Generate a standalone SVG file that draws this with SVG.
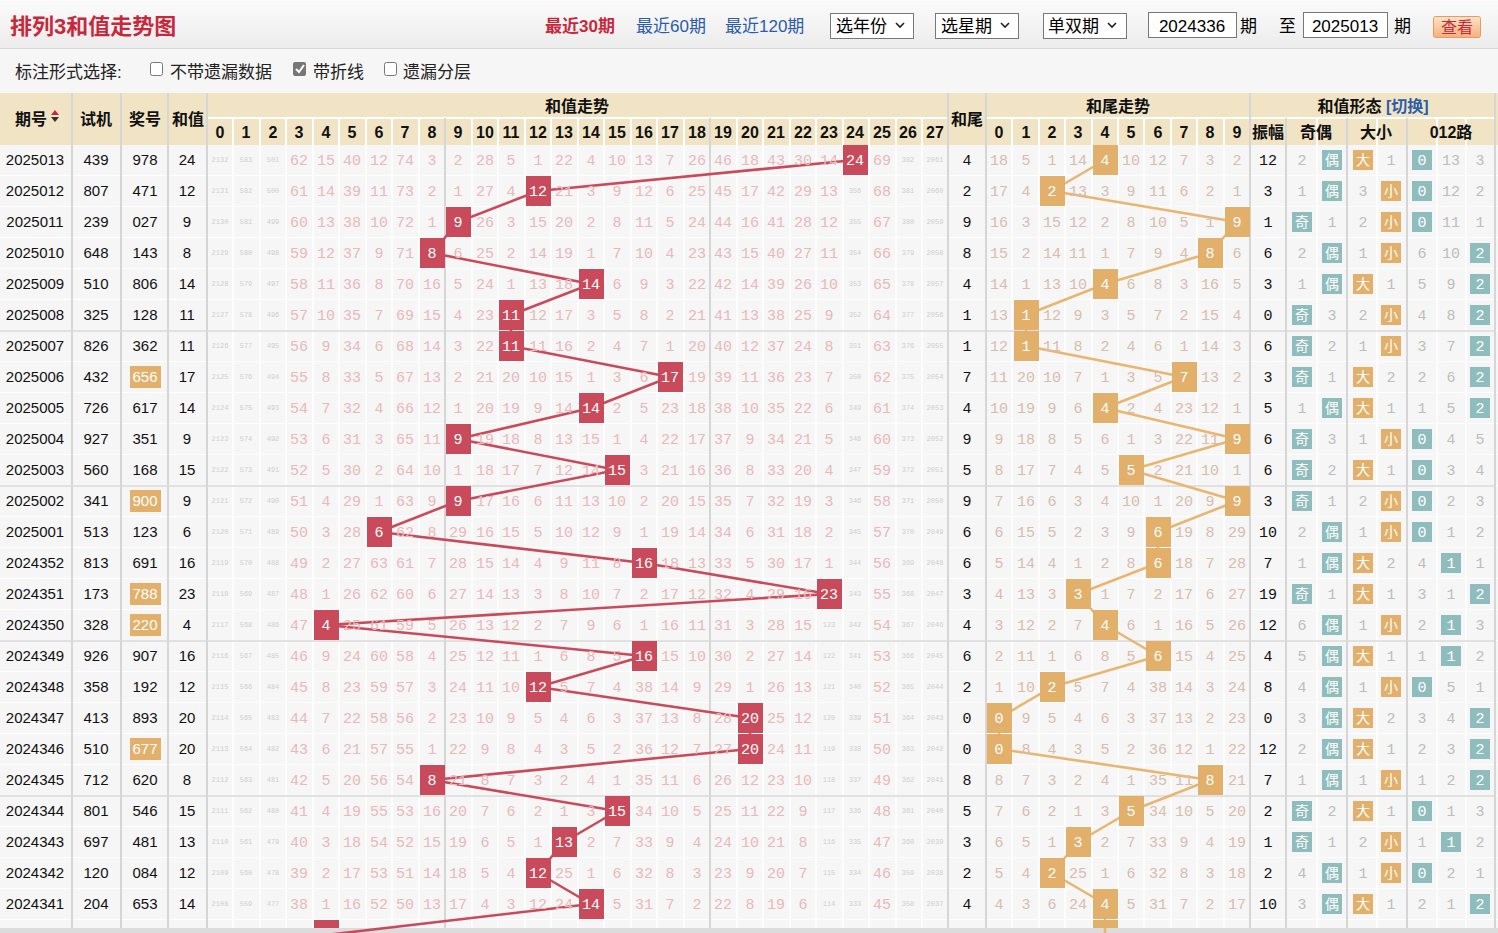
<svg xmlns="http://www.w3.org/2000/svg" width="1498" height="933" viewBox="0 0 1498 933">
<defs>
<linearGradient id="top" x1="0" y1="0" x2="0" y2="1"><stop offset="0" stop-color="#fbfbfb"/><stop offset="1" stop-color="#ececec"/></linearGradient>
<linearGradient id="btn" x1="0" y1="0" x2="0" y2="1"><stop offset="0" stop-color="#fde3c8"/><stop offset="1" stop-color="#f6b07a"/></linearGradient>
<pattern id="rows" x="0" y="145" width="10" height="31" patternUnits="userSpaceOnUse"><rect width="10" height="30" fill="#f6f6f6"/><rect y="30" width="10" height="1" fill="#fff"/></pattern>
</defs>
<style>
.ui{font-family:"Liberation Sans","Noto Sans CJK SC",sans-serif}
.h text{font-family:"Liberation Sans","Noto Sans CJK SC",sans-serif;font-weight:bold;font-size:16px;fill:#111;text-anchor:middle}
.r text{font-family:"Liberation Mono","Noto Sans CJK SC",monospace;font-size:15px;text-anchor:middle;fill:#e9b8ba}
.r .s{font-size:7px;fill:#cfcfcf}
.r .w{fill:#fff}
.r .a{fill:#d8bcae}
.r .f{fill:#bdbdbd}
.r .k{fill:#111;font-family:"Liberation Sans",sans-serif}
.r .kk{fill:#111}
.r .p{fill:#fff;font-family:"Liberation Sans",sans-serif}
.r .bw{fill:#fff;font-family:"Noto Sans CJK SC",sans-serif;font-size:14px}
.rb{fill:#c94b5b}
.ob{fill:#e2b06a}
.tb{fill:#8fbcbd}
.vl{stroke:#d6d6d6;stroke-width:2}
.hl{stroke:#d9d9d9;stroke-width:1.5}
</style>
<rect width="1498" height="933" fill="#f6f6f6"/>
<rect width="1498" height="48" fill="url(#top)"/>
<line x1="0" y1="48.5" x2="1498" y2="48.5" stroke="#d8d8d8"/>
<g id="toolbar" class="ui">
<text x="10" y="34" font-size="22" font-weight="bold" fill="#c8283c">排列3和值走势图</text>
<text x="545" y="32" font-size="17" font-weight="bold" fill="#c8283c">最近30期</text>
<text x="636" y="32" font-size="17" fill="#2a5caa">最近60期</text>
<text x="725" y="32" font-size="17" fill="#2a5caa">最近120期</text>
<rect x="830.5" y="13.5" width="83" height="25" fill="#fff" stroke="#777"/><text x="836" y="32" font-size="17">选年份</text><path d="M896 23l4 4 4-4" fill="none" stroke="#222" stroke-width="1.6"/>
<rect x="935.5" y="13.5" width="83" height="25" fill="#fff" stroke="#777"/><text x="941" y="32" font-size="17">选星期</text><path d="M1001 23l4 4 4-4" fill="none" stroke="#222" stroke-width="1.6"/>
<rect x="1043.5" y="13.5" width="83" height="25" fill="#fff" stroke="#777"/><text x="1048" y="32" font-size="17">单双期</text><path d="M1108 23l4 4 4-4" fill="none" stroke="#222" stroke-width="1.6"/>
<rect x="1148.5" y="12.5" width="88" height="25" fill="#fff" stroke="#777"/><text x="1192" y="32" font-size="17" text-anchor="middle">2024336</text>
<text x="1240" y="32" font-size="17">期</text><text x="1279" y="32" font-size="17">至</text>
<rect x="1303.5" y="12.5" width="84" height="25" fill="#fff" stroke="#777"/><text x="1345" y="32" font-size="17" text-anchor="middle">2025013</text>
<text x="1394" y="32" font-size="17">期</text>
<rect x="1433.5" y="16.5" width="47" height="21" rx="2" fill="url(#btn)" stroke="#e89a66"/><text x="1457" y="33" font-size="16" text-anchor="middle" fill="#c8283c">查看</text>
<text x="15" y="78" font-size="17" fill="#222">标注形式选择:</text>
<rect x="150.5" y="62.5" width="12" height="13" rx="2" fill="#fff" stroke="#777"/><text x="170" y="78" font-size="17" fill="#222">不带遗漏数据</text>
<rect x="293" y="62" width="13" height="14" rx="2" fill="#777"/><path d="M296 69l3 3 5-7" fill="none" stroke="#fff" stroke-width="2"/><text x="313" y="78" font-size="17" fill="#222">带折线</text>
<rect x="384.5" y="62.5" width="12" height="13" rx="2" fill="#fff" stroke="#777"/><text x="403" y="78" font-size="17" fill="#222">遗漏分层</text>
</g>
<g id="header" class="h">
<rect x="0" y="93" width="1498" height="52" fill="#f0e4c5"/>
<path d="M207 118H948M986 118H1250M1251 118H1495" stroke="#fff" stroke-width="2"/>
<path d="M72 93V145M121 93V145M168 93V145M207 118V145M233 118V145M260 118V145M286 118V145M313 118V145M339 118V145M366 118V145M392 118V145M419 118V145M472 118V145M498 118V145M525 118V145M551 118V145M578 118V145M604 118V145M631 118V145M657 118V145M684 118V145M737 118V145M763 118V145M790 118V145M816 118V145M843 118V145M869 118V145M896 118V145M922 118V145M1012 118V145M1039 118V145M1065 118V145M1092 118V145M1118 118V145M1144 118V145M1171 118V145M1197 118V145M1224 118V145M1317 118V145M1377 118V145M1437 118V145M1466 118V145" stroke="#fff" stroke-width="2"/>
<text x="31" y="125" font-size="17">期号</text><path d="M51 115l4-5 4 5z" fill="#c8283c"/><path d="M51 117l4 5 4-5z" fill="#333"/>
<text x="96" y="125" font-size="17">试机</text><text x="145" y="125" font-size="17">奖号</text><text x="188" y="125" font-size="17">和值</text>
<text x="577" y="112">和值走势</text>
<text x="220" y="138">0</text><text x="246" y="138">1</text><text x="273" y="138">2</text><text x="299" y="138">3</text><text x="326" y="138">4</text><text x="352" y="138">5</text><text x="379" y="138">6</text><text x="405" y="138">7</text><text x="432" y="138">8</text><text x="458" y="138">9</text><text x="485" y="138">10</text><text x="511" y="138">11</text><text x="538" y="138">12</text><text x="564" y="138">13</text><text x="591" y="138">14</text><text x="617" y="138">15</text><text x="644" y="138">16</text><text x="670" y="138">17</text><text x="697" y="138">18</text><text x="723" y="138">19</text><text x="750" y="138">20</text><text x="776" y="138">21</text><text x="803" y="138">22</text><text x="829" y="138">23</text><text x="855" y="138">24</text><text x="882" y="138">25</text><text x="908" y="138">26</text><text x="935" y="138">27</text>
<text x="967" y="125" font-size="17">和尾</text>
<text x="1118" y="112">和尾走势</text>
<text x="999" y="138">0</text><text x="1026" y="138">1</text><text x="1052" y="138">2</text><text x="1078" y="138">3</text><text x="1105" y="138">4</text><text x="1131" y="138">5</text><text x="1158" y="138">6</text><text x="1184" y="138">7</text><text x="1210" y="138">8</text><text x="1237" y="138">9</text>
<text x="1373" y="112">和值形态 <tspan fill="#2a5caa">[切换]</tspan></text>
<text x="1268" y="138">振幅</text><text x="1316" y="138">奇偶</text><text x="1376" y="138">大小</text><text x="1451" y="138">012路</text>
</g>
<g id="grid">
<rect x="0" y="145" width="1498" height="783" fill="url(#rows)"/>
<path d="M233 145V928M260 145V928M286 145V928M313 145V928M339 145V928M366 145V928M392 145V928M419 145V928M472 145V928M498 145V928M525 145V928M551 145V928M578 145V928M604 145V928M631 145V928M657 145V928M684 145V928M737 145V928M763 145V928M790 145V928M816 145V928M843 145V928M869 145V928M896 145V928M922 145V928M1012 145V928M1039 145V928M1065 145V928M1092 145V928M1118 145V928M1144 145V928M1171 145V928M1197 145V928M1224 145V928M1317 145V928M1377 145V928M1437 145V928M1466 145V928" stroke="#fff" stroke-width="1.5"/>
<path class="vl" d="M72 93V928M121 93V928M168 93V928M207 93V928M445 118V928M710 118V928M948 93V928M986 93V928M1250 93V928M1286 118V928M1347 118V928M1407 118V928M1495 93V928"/>
<path class="hl" d="M0 331H1495M0 486H1495M0 641H1495M0 796H1495"/>
<rect x="0" y="928" width="1498" height="5" fill="#dcdcdc"/>
</g>
<g id="connectors" fill="none" stroke-width="2.6" stroke-linejoin="round">
<polyline stroke="#c94b5b" points="855,160 538,191 458,222 432,253 591,284 511,315 511,346 670,377 591,408 458,439 617,470 458,501 379,532 644,563 829,594 326,625 644,656 538,687 750,718 750,749 432,780 617,811 564,842 538,873 591,904 326,935"/>
<polyline stroke="#e8b670" points="1105,160 1052,191 1237,222 1210,253 1105,284 1026,315 1026,346 1184,377 1105,408 1237,439 1131,470 1237,501 1158,532 1158,563 1078,594 1105,625 1158,656 1052,687 999,718 999,749 1210,780 1131,811 1078,842 1052,873 1105,904 1105,935"/>
</g>
<g id="r0" class="r" transform="translate(0,160)"><rect class="rb" x="843" y="-15" width="25" height="30"/><rect class="ob" x="1093" y="-15" width="25" height="30"/><rect class="tb" x="1322" y="-10" width="20" height="20"/><rect class="ob" x="1353" y="-10" width="20" height="20"/><rect class="tb" x="1412" y="-10" width="20" height="20"/>
<text class="k" x="35" y="5">2025013</text><text class="k" x="96" y="5">439</text><text class="k" x="145" y="5">978</text><text class="k" x="187" y="5">24</text>
<text class="s" x="220" y="2">2132</text><text class="s" x="246" y="2">583</text><text class="s" x="273" y="2">501</text><text x="299" y="5">62</text><text x="326" y="5">15</text><text x="352" y="5">40</text><text x="379" y="5">12</text><text x="405" y="5">74</text><text x="432" y="5">3</text><text x="458" y="5">2</text><text x="485" y="5">28</text><text x="511" y="5">5</text><text x="538" y="5">1</text><text x="564" y="5">22</text><text x="591" y="5">4</text><text x="617" y="5">10</text><text x="644" y="5">13</text><text x="670" y="5">7</text><text x="697" y="5">26</text><text x="723" y="5">46</text><text x="750" y="5">18</text><text x="776" y="5">43</text><text x="803" y="5">30</text><text x="829" y="5">14</text><text class="w" x="855" y="5">24</text><text x="882" y="5">69</text><text class="s" x="908" y="2">382</text><text class="s" x="935" y="2">2061</text>
<text class="kk" x="967" y="5">4</text><text class="a" x="999" y="5">18</text><text class="a" x="1026" y="5">5</text><text class="a" x="1052" y="5">1</text><text class="a" x="1078" y="5">14</text><text class="w" x="1105" y="5">4</text><text class="a" x="1131" y="5">10</text><text class="a" x="1158" y="5">12</text><text class="a" x="1184" y="5">7</text><text class="a" x="1210" y="5">3</text><text class="a" x="1237" y="5">2</text>
<text class="kk" x="1268" y="5">12</text><text class="f" x="1302" y="5">2</text><text class="bw" x="1332" y="5">偶</text><text class="bw" x="1363" y="5">大</text><text class="f" x="1391" y="5">1</text><text class="w" x="1422" y="5">0</text><text class="f" x="1451" y="5">13</text><text class="f" x="1480" y="5">3</text></g>
<g id="r1" class="r" transform="translate(0,191)"><rect class="rb" x="526" y="-15" width="25" height="30"/><rect class="ob" x="1040" y="-15" width="25" height="30"/><rect class="tb" x="1322" y="-10" width="20" height="20"/><rect class="ob" x="1381" y="-10" width="20" height="20"/><rect class="tb" x="1412" y="-10" width="20" height="20"/>
<text class="k" x="35" y="5">2025012</text><text class="k" x="96" y="5">807</text><text class="k" x="145" y="5">471</text><text class="k" x="187" y="5">12</text>
<text class="s" x="220" y="2">2131</text><text class="s" x="246" y="2">582</text><text class="s" x="273" y="2">500</text><text x="299" y="5">61</text><text x="326" y="5">14</text><text x="352" y="5">39</text><text x="379" y="5">11</text><text x="405" y="5">73</text><text x="432" y="5">2</text><text x="458" y="5">1</text><text x="485" y="5">27</text><text x="511" y="5">4</text><text class="w" x="538" y="5">12</text><text x="564" y="5">21</text><text x="591" y="5">3</text><text x="617" y="5">9</text><text x="644" y="5">12</text><text x="670" y="5">6</text><text x="697" y="5">25</text><text x="723" y="5">45</text><text x="750" y="5">17</text><text x="776" y="5">42</text><text x="803" y="5">29</text><text x="829" y="5">13</text><text class="s" x="855" y="2">356</text><text x="882" y="5">68</text><text class="s" x="908" y="2">381</text><text class="s" x="935" y="2">2060</text>
<text class="kk" x="967" y="5">2</text><text class="a" x="999" y="5">17</text><text class="a" x="1026" y="5">4</text><text class="w" x="1052" y="5">2</text><text class="a" x="1078" y="5">13</text><text class="a" x="1105" y="5">3</text><text class="a" x="1131" y="5">9</text><text class="a" x="1158" y="5">11</text><text class="a" x="1184" y="5">6</text><text class="a" x="1210" y="5">2</text><text class="a" x="1237" y="5">1</text>
<text class="kk" x="1268" y="5">3</text><text class="f" x="1302" y="5">1</text><text class="bw" x="1332" y="5">偶</text><text class="f" x="1363" y="5">3</text><text class="bw" x="1391" y="5">小</text><text class="w" x="1422" y="5">0</text><text class="f" x="1451" y="5">12</text><text class="f" x="1480" y="5">2</text></g>
<g id="r2" class="r" transform="translate(0,222)"><rect class="rb" x="446" y="-15" width="25" height="30"/><rect class="ob" x="1225" y="-15" width="25" height="30"/><rect class="tb" x="1292" y="-10" width="20" height="20"/><rect class="ob" x="1381" y="-10" width="20" height="20"/><rect class="tb" x="1412" y="-10" width="20" height="20"/>
<text class="k" x="35" y="5">2025011</text><text class="k" x="96" y="5">239</text><text class="k" x="145" y="5">027</text><text class="k" x="187" y="5">9</text>
<text class="s" x="220" y="2">2130</text><text class="s" x="246" y="2">581</text><text class="s" x="273" y="2">499</text><text x="299" y="5">60</text><text x="326" y="5">13</text><text x="352" y="5">38</text><text x="379" y="5">10</text><text x="405" y="5">72</text><text x="432" y="5">1</text><text class="w" x="458" y="5">9</text><text x="485" y="5">26</text><text x="511" y="5">3</text><text x="538" y="5">15</text><text x="564" y="5">20</text><text x="591" y="5">2</text><text x="617" y="5">8</text><text x="644" y="5">11</text><text x="670" y="5">5</text><text x="697" y="5">24</text><text x="723" y="5">44</text><text x="750" y="5">16</text><text x="776" y="5">41</text><text x="803" y="5">28</text><text x="829" y="5">12</text><text class="s" x="855" y="2">355</text><text x="882" y="5">67</text><text class="s" x="908" y="2">380</text><text class="s" x="935" y="2">2059</text>
<text class="kk" x="967" y="5">9</text><text class="a" x="999" y="5">16</text><text class="a" x="1026" y="5">3</text><text class="a" x="1052" y="5">15</text><text class="a" x="1078" y="5">12</text><text class="a" x="1105" y="5">2</text><text class="a" x="1131" y="5">8</text><text class="a" x="1158" y="5">10</text><text class="a" x="1184" y="5">5</text><text class="a" x="1210" y="5">1</text><text class="w" x="1237" y="5">9</text>
<text class="kk" x="1268" y="5">1</text><text class="bw" x="1302" y="5">奇</text><text class="f" x="1332" y="5">1</text><text class="f" x="1363" y="5">2</text><text class="bw" x="1391" y="5">小</text><text class="w" x="1422" y="5">0</text><text class="f" x="1451" y="5">11</text><text class="f" x="1480" y="5">1</text></g>
<g id="r3" class="r" transform="translate(0,253)"><rect class="rb" x="420" y="-15" width="25" height="30"/><rect class="ob" x="1198" y="-15" width="25" height="30"/><rect class="tb" x="1322" y="-10" width="20" height="20"/><rect class="ob" x="1381" y="-10" width="20" height="20"/><rect class="tb" x="1470" y="-10" width="20" height="20"/>
<text class="k" x="35" y="5">2025010</text><text class="k" x="96" y="5">648</text><text class="k" x="145" y="5">143</text><text class="k" x="187" y="5">8</text>
<text class="s" x="220" y="2">2129</text><text class="s" x="246" y="2">580</text><text class="s" x="273" y="2">498</text><text x="299" y="5">59</text><text x="326" y="5">12</text><text x="352" y="5">37</text><text x="379" y="5">9</text><text x="405" y="5">71</text><text class="w" x="432" y="5">8</text><text x="458" y="5">6</text><text x="485" y="5">25</text><text x="511" y="5">2</text><text x="538" y="5">14</text><text x="564" y="5">19</text><text x="591" y="5">1</text><text x="617" y="5">7</text><text x="644" y="5">10</text><text x="670" y="5">4</text><text x="697" y="5">23</text><text x="723" y="5">43</text><text x="750" y="5">15</text><text x="776" y="5">40</text><text x="803" y="5">27</text><text x="829" y="5">11</text><text class="s" x="855" y="2">354</text><text x="882" y="5">66</text><text class="s" x="908" y="2">379</text><text class="s" x="935" y="2">2058</text>
<text class="kk" x="967" y="5">8</text><text class="a" x="999" y="5">15</text><text class="a" x="1026" y="5">2</text><text class="a" x="1052" y="5">14</text><text class="a" x="1078" y="5">11</text><text class="a" x="1105" y="5">1</text><text class="a" x="1131" y="5">7</text><text class="a" x="1158" y="5">9</text><text class="a" x="1184" y="5">4</text><text class="w" x="1210" y="5">8</text><text class="a" x="1237" y="5">6</text>
<text class="kk" x="1268" y="5">6</text><text class="f" x="1302" y="5">2</text><text class="bw" x="1332" y="5">偶</text><text class="f" x="1363" y="5">1</text><text class="bw" x="1391" y="5">小</text><text class="f" x="1422" y="5">6</text><text class="f" x="1451" y="5">10</text><text class="w" x="1480" y="5">2</text></g>
<g id="r4" class="r" transform="translate(0,284)"><rect class="rb" x="579" y="-15" width="25" height="30"/><rect class="ob" x="1093" y="-15" width="25" height="30"/><rect class="tb" x="1322" y="-10" width="20" height="20"/><rect class="ob" x="1353" y="-10" width="20" height="20"/><rect class="tb" x="1470" y="-10" width="20" height="20"/>
<text class="k" x="35" y="5">2025009</text><text class="k" x="96" y="5">510</text><text class="k" x="145" y="5">806</text><text class="k" x="187" y="5">14</text>
<text class="s" x="220" y="2">2128</text><text class="s" x="246" y="2">579</text><text class="s" x="273" y="2">497</text><text x="299" y="5">58</text><text x="326" y="5">11</text><text x="352" y="5">36</text><text x="379" y="5">8</text><text x="405" y="5">70</text><text x="432" y="5">16</text><text x="458" y="5">5</text><text x="485" y="5">24</text><text x="511" y="5">1</text><text x="538" y="5">13</text><text x="564" y="5">18</text><text class="w" x="591" y="5">14</text><text x="617" y="5">6</text><text x="644" y="5">9</text><text x="670" y="5">3</text><text x="697" y="5">22</text><text x="723" y="5">42</text><text x="750" y="5">14</text><text x="776" y="5">39</text><text x="803" y="5">26</text><text x="829" y="5">10</text><text class="s" x="855" y="2">353</text><text x="882" y="5">65</text><text class="s" x="908" y="2">378</text><text class="s" x="935" y="2">2057</text>
<text class="kk" x="967" y="5">4</text><text class="a" x="999" y="5">14</text><text class="a" x="1026" y="5">1</text><text class="a" x="1052" y="5">13</text><text class="a" x="1078" y="5">10</text><text class="w" x="1105" y="5">4</text><text class="a" x="1131" y="5">6</text><text class="a" x="1158" y="5">8</text><text class="a" x="1184" y="5">3</text><text class="a" x="1210" y="5">16</text><text class="a" x="1237" y="5">5</text>
<text class="kk" x="1268" y="5">3</text><text class="f" x="1302" y="5">1</text><text class="bw" x="1332" y="5">偶</text><text class="bw" x="1363" y="5">大</text><text class="f" x="1391" y="5">1</text><text class="f" x="1422" y="5">5</text><text class="f" x="1451" y="5">9</text><text class="w" x="1480" y="5">2</text></g>
<g id="r5" class="r" transform="translate(0,315)"><rect class="rb" x="499" y="-15" width="25" height="30"/><rect class="ob" x="1014" y="-15" width="25" height="30"/><rect class="tb" x="1292" y="-10" width="20" height="20"/><rect class="ob" x="1381" y="-10" width="20" height="20"/><rect class="tb" x="1470" y="-10" width="20" height="20"/>
<text class="k" x="35" y="5">2025008</text><text class="k" x="96" y="5">325</text><text class="k" x="145" y="5">128</text><text class="k" x="187" y="5">11</text>
<text class="s" x="220" y="2">2127</text><text class="s" x="246" y="2">578</text><text class="s" x="273" y="2">496</text><text x="299" y="5">57</text><text x="326" y="5">10</text><text x="352" y="5">35</text><text x="379" y="5">7</text><text x="405" y="5">69</text><text x="432" y="5">15</text><text x="458" y="5">4</text><text x="485" y="5">23</text><text class="w" x="511" y="5">11</text><text x="538" y="5">12</text><text x="564" y="5">17</text><text x="591" y="5">3</text><text x="617" y="5">5</text><text x="644" y="5">8</text><text x="670" y="5">2</text><text x="697" y="5">21</text><text x="723" y="5">41</text><text x="750" y="5">13</text><text x="776" y="5">38</text><text x="803" y="5">25</text><text x="829" y="5">9</text><text class="s" x="855" y="2">352</text><text x="882" y="5">64</text><text class="s" x="908" y="2">377</text><text class="s" x="935" y="2">2056</text>
<text class="kk" x="967" y="5">1</text><text class="a" x="999" y="5">13</text><text class="w" x="1026" y="5">1</text><text class="a" x="1052" y="5">12</text><text class="a" x="1078" y="5">9</text><text class="a" x="1105" y="5">3</text><text class="a" x="1131" y="5">5</text><text class="a" x="1158" y="5">7</text><text class="a" x="1184" y="5">2</text><text class="a" x="1210" y="5">15</text><text class="a" x="1237" y="5">4</text>
<text class="kk" x="1268" y="5">0</text><text class="bw" x="1302" y="5">奇</text><text class="f" x="1332" y="5">3</text><text class="f" x="1363" y="5">2</text><text class="bw" x="1391" y="5">小</text><text class="f" x="1422" y="5">4</text><text class="f" x="1451" y="5">8</text><text class="w" x="1480" y="5">2</text></g>
<g id="r6" class="r" transform="translate(0,346)"><rect class="rb" x="499" y="-15" width="25" height="30"/><rect class="ob" x="1014" y="-15" width="25" height="30"/><rect class="tb" x="1292" y="-10" width="20" height="20"/><rect class="ob" x="1381" y="-10" width="20" height="20"/><rect class="tb" x="1470" y="-10" width="20" height="20"/>
<text class="k" x="35" y="5">2025007</text><text class="k" x="96" y="5">826</text><text class="k" x="145" y="5">362</text><text class="k" x="187" y="5">11</text>
<text class="s" x="220" y="2">2126</text><text class="s" x="246" y="2">577</text><text class="s" x="273" y="2">495</text><text x="299" y="5">56</text><text x="326" y="5">9</text><text x="352" y="5">34</text><text x="379" y="5">6</text><text x="405" y="5">68</text><text x="432" y="5">14</text><text x="458" y="5">3</text><text x="485" y="5">22</text><text class="w" x="511" y="5">11</text><text x="538" y="5">11</text><text x="564" y="5">16</text><text x="591" y="5">2</text><text x="617" y="5">4</text><text x="644" y="5">7</text><text x="670" y="5">1</text><text x="697" y="5">20</text><text x="723" y="5">40</text><text x="750" y="5">12</text><text x="776" y="5">37</text><text x="803" y="5">24</text><text x="829" y="5">8</text><text class="s" x="855" y="2">351</text><text x="882" y="5">63</text><text class="s" x="908" y="2">376</text><text class="s" x="935" y="2">2055</text>
<text class="kk" x="967" y="5">1</text><text class="a" x="999" y="5">12</text><text class="w" x="1026" y="5">1</text><text class="a" x="1052" y="5">11</text><text class="a" x="1078" y="5">8</text><text class="a" x="1105" y="5">2</text><text class="a" x="1131" y="5">4</text><text class="a" x="1158" y="5">6</text><text class="a" x="1184" y="5">1</text><text class="a" x="1210" y="5">14</text><text class="a" x="1237" y="5">3</text>
<text class="kk" x="1268" y="5">6</text><text class="bw" x="1302" y="5">奇</text><text class="f" x="1332" y="5">2</text><text class="f" x="1363" y="5">1</text><text class="bw" x="1391" y="5">小</text><text class="f" x="1422" y="5">3</text><text class="f" x="1451" y="5">7</text><text class="w" x="1480" y="5">2</text></g>
<g id="r7" class="r" transform="translate(0,377)"><rect class="ob" x="130" y="-11" width="31" height="22"/><rect class="rb" x="658" y="-15" width="25" height="30"/><rect class="ob" x="1172" y="-15" width="25" height="30"/><rect class="tb" x="1292" y="-10" width="20" height="20"/><rect class="ob" x="1353" y="-10" width="20" height="20"/><rect class="tb" x="1470" y="-10" width="20" height="20"/>
<text class="k" x="35" y="5">2025006</text><text class="k" x="96" y="5">432</text><text class="p" x="145" y="5">656</text><text class="k" x="187" y="5">17</text>
<text class="s" x="220" y="2">2125</text><text class="s" x="246" y="2">576</text><text class="s" x="273" y="2">494</text><text x="299" y="5">55</text><text x="326" y="5">8</text><text x="352" y="5">33</text><text x="379" y="5">5</text><text x="405" y="5">67</text><text x="432" y="5">13</text><text x="458" y="5">2</text><text x="485" y="5">21</text><text x="511" y="5">20</text><text x="538" y="5">10</text><text x="564" y="5">15</text><text x="591" y="5">1</text><text x="617" y="5">3</text><text x="644" y="5">6</text><text class="w" x="670" y="5">17</text><text x="697" y="5">19</text><text x="723" y="5">39</text><text x="750" y="5">11</text><text x="776" y="5">36</text><text x="803" y="5">23</text><text x="829" y="5">7</text><text class="s" x="855" y="2">350</text><text x="882" y="5">62</text><text class="s" x="908" y="2">375</text><text class="s" x="935" y="2">2054</text>
<text class="kk" x="967" y="5">7</text><text class="a" x="999" y="5">11</text><text class="a" x="1026" y="5">20</text><text class="a" x="1052" y="5">10</text><text class="a" x="1078" y="5">7</text><text class="a" x="1105" y="5">1</text><text class="a" x="1131" y="5">3</text><text class="a" x="1158" y="5">5</text><text class="w" x="1184" y="5">7</text><text class="a" x="1210" y="5">13</text><text class="a" x="1237" y="5">2</text>
<text class="kk" x="1268" y="5">3</text><text class="bw" x="1302" y="5">奇</text><text class="f" x="1332" y="5">1</text><text class="bw" x="1363" y="5">大</text><text class="f" x="1391" y="5">2</text><text class="f" x="1422" y="5">2</text><text class="f" x="1451" y="5">6</text><text class="w" x="1480" y="5">2</text></g>
<g id="r8" class="r" transform="translate(0,408)"><rect class="rb" x="579" y="-15" width="25" height="30"/><rect class="ob" x="1093" y="-15" width="25" height="30"/><rect class="tb" x="1322" y="-10" width="20" height="20"/><rect class="ob" x="1353" y="-10" width="20" height="20"/><rect class="tb" x="1470" y="-10" width="20" height="20"/>
<text class="k" x="35" y="5">2025005</text><text class="k" x="96" y="5">726</text><text class="k" x="145" y="5">617</text><text class="k" x="187" y="5">14</text>
<text class="s" x="220" y="2">2124</text><text class="s" x="246" y="2">575</text><text class="s" x="273" y="2">493</text><text x="299" y="5">54</text><text x="326" y="5">7</text><text x="352" y="5">32</text><text x="379" y="5">4</text><text x="405" y="5">66</text><text x="432" y="5">12</text><text x="458" y="5">1</text><text x="485" y="5">20</text><text x="511" y="5">19</text><text x="538" y="5">9</text><text x="564" y="5">14</text><text class="w" x="591" y="5">14</text><text x="617" y="5">2</text><text x="644" y="5">5</text><text x="670" y="5">23</text><text x="697" y="5">18</text><text x="723" y="5">38</text><text x="750" y="5">10</text><text x="776" y="5">35</text><text x="803" y="5">22</text><text x="829" y="5">6</text><text class="s" x="855" y="2">349</text><text x="882" y="5">61</text><text class="s" x="908" y="2">374</text><text class="s" x="935" y="2">2053</text>
<text class="kk" x="967" y="5">4</text><text class="a" x="999" y="5">10</text><text class="a" x="1026" y="5">19</text><text class="a" x="1052" y="5">9</text><text class="a" x="1078" y="5">6</text><text class="w" x="1105" y="5">4</text><text class="a" x="1131" y="5">2</text><text class="a" x="1158" y="5">4</text><text class="a" x="1184" y="5">23</text><text class="a" x="1210" y="5">12</text><text class="a" x="1237" y="5">1</text>
<text class="kk" x="1268" y="5">5</text><text class="f" x="1302" y="5">1</text><text class="bw" x="1332" y="5">偶</text><text class="bw" x="1363" y="5">大</text><text class="f" x="1391" y="5">1</text><text class="f" x="1422" y="5">1</text><text class="f" x="1451" y="5">5</text><text class="w" x="1480" y="5">2</text></g>
<g id="r9" class="r" transform="translate(0,439)"><rect class="rb" x="446" y="-15" width="25" height="30"/><rect class="ob" x="1225" y="-15" width="25" height="30"/><rect class="tb" x="1292" y="-10" width="20" height="20"/><rect class="ob" x="1381" y="-10" width="20" height="20"/><rect class="tb" x="1412" y="-10" width="20" height="20"/>
<text class="k" x="35" y="5">2025004</text><text class="k" x="96" y="5">927</text><text class="k" x="145" y="5">351</text><text class="k" x="187" y="5">9</text>
<text class="s" x="220" y="2">2123</text><text class="s" x="246" y="2">574</text><text class="s" x="273" y="2">492</text><text x="299" y="5">53</text><text x="326" y="5">6</text><text x="352" y="5">31</text><text x="379" y="5">3</text><text x="405" y="5">65</text><text x="432" y="5">11</text><text class="w" x="458" y="5">9</text><text x="485" y="5">19</text><text x="511" y="5">18</text><text x="538" y="5">8</text><text x="564" y="5">13</text><text x="591" y="5">15</text><text x="617" y="5">1</text><text x="644" y="5">4</text><text x="670" y="5">22</text><text x="697" y="5">17</text><text x="723" y="5">37</text><text x="750" y="5">9</text><text x="776" y="5">34</text><text x="803" y="5">21</text><text x="829" y="5">5</text><text class="s" x="855" y="2">348</text><text x="882" y="5">60</text><text class="s" x="908" y="2">373</text><text class="s" x="935" y="2">2052</text>
<text class="kk" x="967" y="5">9</text><text class="a" x="999" y="5">9</text><text class="a" x="1026" y="5">18</text><text class="a" x="1052" y="5">8</text><text class="a" x="1078" y="5">5</text><text class="a" x="1105" y="5">6</text><text class="a" x="1131" y="5">1</text><text class="a" x="1158" y="5">3</text><text class="a" x="1184" y="5">22</text><text class="a" x="1210" y="5">11</text><text class="w" x="1237" y="5">9</text>
<text class="kk" x="1268" y="5">6</text><text class="bw" x="1302" y="5">奇</text><text class="f" x="1332" y="5">3</text><text class="f" x="1363" y="5">1</text><text class="bw" x="1391" y="5">小</text><text class="w" x="1422" y="5">0</text><text class="f" x="1451" y="5">4</text><text class="f" x="1480" y="5">5</text></g>
<g id="r10" class="r" transform="translate(0,470)"><rect class="rb" x="605" y="-15" width="25" height="30"/><rect class="ob" x="1119" y="-15" width="25" height="30"/><rect class="tb" x="1292" y="-10" width="20" height="20"/><rect class="ob" x="1353" y="-10" width="20" height="20"/><rect class="tb" x="1412" y="-10" width="20" height="20"/>
<text class="k" x="35" y="5">2025003</text><text class="k" x="96" y="5">560</text><text class="k" x="145" y="5">168</text><text class="k" x="187" y="5">15</text>
<text class="s" x="220" y="2">2122</text><text class="s" x="246" y="2">573</text><text class="s" x="273" y="2">491</text><text x="299" y="5">52</text><text x="326" y="5">5</text><text x="352" y="5">30</text><text x="379" y="5">2</text><text x="405" y="5">64</text><text x="432" y="5">10</text><text x="458" y="5">1</text><text x="485" y="5">18</text><text x="511" y="5">17</text><text x="538" y="5">7</text><text x="564" y="5">12</text><text x="591" y="5">14</text><text class="w" x="617" y="5">15</text><text x="644" y="5">3</text><text x="670" y="5">21</text><text x="697" y="5">16</text><text x="723" y="5">36</text><text x="750" y="5">8</text><text x="776" y="5">33</text><text x="803" y="5">20</text><text x="829" y="5">4</text><text class="s" x="855" y="2">347</text><text x="882" y="5">59</text><text class="s" x="908" y="2">372</text><text class="s" x="935" y="2">2051</text>
<text class="kk" x="967" y="5">5</text><text class="a" x="999" y="5">8</text><text class="a" x="1026" y="5">17</text><text class="a" x="1052" y="5">7</text><text class="a" x="1078" y="5">4</text><text class="a" x="1105" y="5">5</text><text class="w" x="1131" y="5">5</text><text class="a" x="1158" y="5">2</text><text class="a" x="1184" y="5">21</text><text class="a" x="1210" y="5">10</text><text class="a" x="1237" y="5">1</text>
<text class="kk" x="1268" y="5">6</text><text class="bw" x="1302" y="5">奇</text><text class="f" x="1332" y="5">2</text><text class="bw" x="1363" y="5">大</text><text class="f" x="1391" y="5">1</text><text class="w" x="1422" y="5">0</text><text class="f" x="1451" y="5">3</text><text class="f" x="1480" y="5">4</text></g>
<g id="r11" class="r" transform="translate(0,501)"><rect class="ob" x="130" y="-11" width="31" height="22"/><rect class="rb" x="446" y="-15" width="25" height="30"/><rect class="ob" x="1225" y="-15" width="25" height="30"/><rect class="tb" x="1292" y="-10" width="20" height="20"/><rect class="ob" x="1381" y="-10" width="20" height="20"/><rect class="tb" x="1412" y="-10" width="20" height="20"/>
<text class="k" x="35" y="5">2025002</text><text class="k" x="96" y="5">341</text><text class="p" x="145" y="5">900</text><text class="k" x="187" y="5">9</text>
<text class="s" x="220" y="2">2121</text><text class="s" x="246" y="2">572</text><text class="s" x="273" y="2">490</text><text x="299" y="5">51</text><text x="326" y="5">4</text><text x="352" y="5">29</text><text x="379" y="5">1</text><text x="405" y="5">63</text><text x="432" y="5">9</text><text class="w" x="458" y="5">9</text><text x="485" y="5">17</text><text x="511" y="5">16</text><text x="538" y="5">6</text><text x="564" y="5">11</text><text x="591" y="5">13</text><text x="617" y="5">10</text><text x="644" y="5">2</text><text x="670" y="5">20</text><text x="697" y="5">15</text><text x="723" y="5">35</text><text x="750" y="5">7</text><text x="776" y="5">32</text><text x="803" y="5">19</text><text x="829" y="5">3</text><text class="s" x="855" y="2">346</text><text x="882" y="5">58</text><text class="s" x="908" y="2">371</text><text class="s" x="935" y="2">2050</text>
<text class="kk" x="967" y="5">9</text><text class="a" x="999" y="5">7</text><text class="a" x="1026" y="5">16</text><text class="a" x="1052" y="5">6</text><text class="a" x="1078" y="5">3</text><text class="a" x="1105" y="5">4</text><text class="a" x="1131" y="5">10</text><text class="a" x="1158" y="5">1</text><text class="a" x="1184" y="5">20</text><text class="a" x="1210" y="5">9</text><text class="w" x="1237" y="5">9</text>
<text class="kk" x="1268" y="5">3</text><text class="bw" x="1302" y="5">奇</text><text class="f" x="1332" y="5">1</text><text class="f" x="1363" y="5">2</text><text class="bw" x="1391" y="5">小</text><text class="w" x="1422" y="5">0</text><text class="f" x="1451" y="5">2</text><text class="f" x="1480" y="5">3</text></g>
<g id="r12" class="r" transform="translate(0,532)"><rect class="rb" x="367" y="-15" width="25" height="30"/><rect class="ob" x="1146" y="-15" width="25" height="30"/><rect class="tb" x="1322" y="-10" width="20" height="20"/><rect class="ob" x="1381" y="-10" width="20" height="20"/><rect class="tb" x="1412" y="-10" width="20" height="20"/>
<text class="k" x="35" y="5">2025001</text><text class="k" x="96" y="5">513</text><text class="k" x="145" y="5">123</text><text class="k" x="187" y="5">6</text>
<text class="s" x="220" y="2">2120</text><text class="s" x="246" y="2">571</text><text class="s" x="273" y="2">489</text><text x="299" y="5">50</text><text x="326" y="5">3</text><text x="352" y="5">28</text><text class="w" x="379" y="5">6</text><text x="405" y="5">62</text><text x="432" y="5">8</text><text x="458" y="5">29</text><text x="485" y="5">16</text><text x="511" y="5">15</text><text x="538" y="5">5</text><text x="564" y="5">10</text><text x="591" y="5">12</text><text x="617" y="5">9</text><text x="644" y="5">1</text><text x="670" y="5">19</text><text x="697" y="5">14</text><text x="723" y="5">34</text><text x="750" y="5">6</text><text x="776" y="5">31</text><text x="803" y="5">18</text><text x="829" y="5">2</text><text class="s" x="855" y="2">345</text><text x="882" y="5">57</text><text class="s" x="908" y="2">370</text><text class="s" x="935" y="2">2049</text>
<text class="kk" x="967" y="5">6</text><text class="a" x="999" y="5">6</text><text class="a" x="1026" y="5">15</text><text class="a" x="1052" y="5">5</text><text class="a" x="1078" y="5">2</text><text class="a" x="1105" y="5">3</text><text class="a" x="1131" y="5">9</text><text class="w" x="1158" y="5">6</text><text class="a" x="1184" y="5">19</text><text class="a" x="1210" y="5">8</text><text class="a" x="1237" y="5">29</text>
<text class="kk" x="1268" y="5">10</text><text class="f" x="1302" y="5">2</text><text class="bw" x="1332" y="5">偶</text><text class="f" x="1363" y="5">1</text><text class="bw" x="1391" y="5">小</text><text class="w" x="1422" y="5">0</text><text class="f" x="1451" y="5">1</text><text class="f" x="1480" y="5">2</text></g>
<g id="r13" class="r" transform="translate(0,563)"><rect class="rb" x="632" y="-15" width="25" height="30"/><rect class="ob" x="1146" y="-15" width="25" height="30"/><rect class="tb" x="1322" y="-10" width="20" height="20"/><rect class="ob" x="1353" y="-10" width="20" height="20"/><rect class="tb" x="1441" y="-10" width="20" height="20"/>
<text class="k" x="35" y="5">2024352</text><text class="k" x="96" y="5">813</text><text class="k" x="145" y="5">691</text><text class="k" x="187" y="5">16</text>
<text class="s" x="220" y="2">2119</text><text class="s" x="246" y="2">570</text><text class="s" x="273" y="2">488</text><text x="299" y="5">49</text><text x="326" y="5">2</text><text x="352" y="5">27</text><text x="379" y="5">63</text><text x="405" y="5">61</text><text x="432" y="5">7</text><text x="458" y="5">28</text><text x="485" y="5">15</text><text x="511" y="5">14</text><text x="538" y="5">4</text><text x="564" y="5">9</text><text x="591" y="5">11</text><text x="617" y="5">8</text><text class="w" x="644" y="5">16</text><text x="670" y="5">18</text><text x="697" y="5">13</text><text x="723" y="5">33</text><text x="750" y="5">5</text><text x="776" y="5">30</text><text x="803" y="5">17</text><text x="829" y="5">1</text><text class="s" x="855" y="2">344</text><text x="882" y="5">56</text><text class="s" x="908" y="2">369</text><text class="s" x="935" y="2">2048</text>
<text class="kk" x="967" y="5">6</text><text class="a" x="999" y="5">5</text><text class="a" x="1026" y="5">14</text><text class="a" x="1052" y="5">4</text><text class="a" x="1078" y="5">1</text><text class="a" x="1105" y="5">2</text><text class="a" x="1131" y="5">8</text><text class="w" x="1158" y="5">6</text><text class="a" x="1184" y="5">18</text><text class="a" x="1210" y="5">7</text><text class="a" x="1237" y="5">28</text>
<text class="kk" x="1268" y="5">7</text><text class="f" x="1302" y="5">1</text><text class="bw" x="1332" y="5">偶</text><text class="bw" x="1363" y="5">大</text><text class="f" x="1391" y="5">2</text><text class="f" x="1422" y="5">4</text><text class="w" x="1451" y="5">1</text><text class="f" x="1480" y="5">1</text></g>
<g id="r14" class="r" transform="translate(0,594)"><rect class="ob" x="130" y="-11" width="31" height="22"/><rect class="rb" x="817" y="-15" width="25" height="30"/><rect class="ob" x="1066" y="-15" width="25" height="30"/><rect class="tb" x="1292" y="-10" width="20" height="20"/><rect class="ob" x="1353" y="-10" width="20" height="20"/><rect class="tb" x="1470" y="-10" width="20" height="20"/>
<text class="k" x="35" y="5">2024351</text><text class="k" x="96" y="5">173</text><text class="p" x="145" y="5">788</text><text class="k" x="187" y="5">23</text>
<text class="s" x="220" y="2">2118</text><text class="s" x="246" y="2">569</text><text class="s" x="273" y="2">487</text><text x="299" y="5">48</text><text x="326" y="5">1</text><text x="352" y="5">26</text><text x="379" y="5">62</text><text x="405" y="5">60</text><text x="432" y="5">6</text><text x="458" y="5">27</text><text x="485" y="5">14</text><text x="511" y="5">13</text><text x="538" y="5">3</text><text x="564" y="5">8</text><text x="591" y="5">10</text><text x="617" y="5">7</text><text x="644" y="5">2</text><text x="670" y="5">17</text><text x="697" y="5">12</text><text x="723" y="5">32</text><text x="750" y="5">4</text><text x="776" y="5">29</text><text x="803" y="5">16</text><text class="w" x="829" y="5">23</text><text class="s" x="855" y="2">343</text><text x="882" y="5">55</text><text class="s" x="908" y="2">368</text><text class="s" x="935" y="2">2047</text>
<text class="kk" x="967" y="5">3</text><text class="a" x="999" y="5">4</text><text class="a" x="1026" y="5">13</text><text class="a" x="1052" y="5">3</text><text class="w" x="1078" y="5">3</text><text class="a" x="1105" y="5">1</text><text class="a" x="1131" y="5">7</text><text class="a" x="1158" y="5">2</text><text class="a" x="1184" y="5">17</text><text class="a" x="1210" y="5">6</text><text class="a" x="1237" y="5">27</text>
<text class="kk" x="1268" y="5">19</text><text class="bw" x="1302" y="5">奇</text><text class="f" x="1332" y="5">1</text><text class="bw" x="1363" y="5">大</text><text class="f" x="1391" y="5">1</text><text class="f" x="1422" y="5">3</text><text class="f" x="1451" y="5">1</text><text class="w" x="1480" y="5">2</text></g>
<g id="r15" class="r" transform="translate(0,625)"><rect class="ob" x="130" y="-11" width="31" height="22"/><rect class="rb" x="314" y="-15" width="25" height="30"/><rect class="ob" x="1093" y="-15" width="25" height="30"/><rect class="tb" x="1322" y="-10" width="20" height="20"/><rect class="ob" x="1381" y="-10" width="20" height="20"/><rect class="tb" x="1441" y="-10" width="20" height="20"/>
<text class="k" x="35" y="5">2024350</text><text class="k" x="96" y="5">328</text><text class="p" x="145" y="5">220</text><text class="k" x="187" y="5">4</text>
<text class="s" x="220" y="2">2117</text><text class="s" x="246" y="2">568</text><text class="s" x="273" y="2">486</text><text x="299" y="5">47</text><text class="w" x="326" y="5">4</text><text x="352" y="5">25</text><text x="379" y="5">61</text><text x="405" y="5">59</text><text x="432" y="5">5</text><text x="458" y="5">26</text><text x="485" y="5">13</text><text x="511" y="5">12</text><text x="538" y="5">2</text><text x="564" y="5">7</text><text x="591" y="5">9</text><text x="617" y="5">6</text><text x="644" y="5">1</text><text x="670" y="5">16</text><text x="697" y="5">11</text><text x="723" y="5">31</text><text x="750" y="5">3</text><text x="776" y="5">28</text><text x="803" y="5">15</text><text class="s" x="829" y="2">123</text><text class="s" x="855" y="2">342</text><text x="882" y="5">54</text><text class="s" x="908" y="2">367</text><text class="s" x="935" y="2">2046</text>
<text class="kk" x="967" y="5">4</text><text class="a" x="999" y="5">3</text><text class="a" x="1026" y="5">12</text><text class="a" x="1052" y="5">2</text><text class="a" x="1078" y="5">7</text><text class="w" x="1105" y="5">4</text><text class="a" x="1131" y="5">6</text><text class="a" x="1158" y="5">1</text><text class="a" x="1184" y="5">16</text><text class="a" x="1210" y="5">5</text><text class="a" x="1237" y="5">26</text>
<text class="kk" x="1268" y="5">12</text><text class="f" x="1302" y="5">6</text><text class="bw" x="1332" y="5">偶</text><text class="f" x="1363" y="5">1</text><text class="bw" x="1391" y="5">小</text><text class="f" x="1422" y="5">2</text><text class="w" x="1451" y="5">1</text><text class="f" x="1480" y="5">3</text></g>
<g id="r16" class="r" transform="translate(0,656)"><rect class="rb" x="632" y="-15" width="25" height="30"/><rect class="ob" x="1146" y="-15" width="25" height="30"/><rect class="tb" x="1322" y="-10" width="20" height="20"/><rect class="ob" x="1353" y="-10" width="20" height="20"/><rect class="tb" x="1441" y="-10" width="20" height="20"/>
<text class="k" x="35" y="5">2024349</text><text class="k" x="96" y="5">926</text><text class="k" x="145" y="5">907</text><text class="k" x="187" y="5">16</text>
<text class="s" x="220" y="2">2116</text><text class="s" x="246" y="2">567</text><text class="s" x="273" y="2">485</text><text x="299" y="5">46</text><text x="326" y="5">9</text><text x="352" y="5">24</text><text x="379" y="5">60</text><text x="405" y="5">58</text><text x="432" y="5">4</text><text x="458" y="5">25</text><text x="485" y="5">12</text><text x="511" y="5">11</text><text x="538" y="5">1</text><text x="564" y="5">6</text><text x="591" y="5">8</text><text x="617" y="5">5</text><text class="w" x="644" y="5">16</text><text x="670" y="5">15</text><text x="697" y="5">10</text><text x="723" y="5">30</text><text x="750" y="5">2</text><text x="776" y="5">27</text><text x="803" y="5">14</text><text class="s" x="829" y="2">122</text><text class="s" x="855" y="2">341</text><text x="882" y="5">53</text><text class="s" x="908" y="2">366</text><text class="s" x="935" y="2">2045</text>
<text class="kk" x="967" y="5">6</text><text class="a" x="999" y="5">2</text><text class="a" x="1026" y="5">11</text><text class="a" x="1052" y="5">1</text><text class="a" x="1078" y="5">6</text><text class="a" x="1105" y="5">8</text><text class="a" x="1131" y="5">5</text><text class="w" x="1158" y="5">6</text><text class="a" x="1184" y="5">15</text><text class="a" x="1210" y="5">4</text><text class="a" x="1237" y="5">25</text>
<text class="kk" x="1268" y="5">4</text><text class="f" x="1302" y="5">5</text><text class="bw" x="1332" y="5">偶</text><text class="bw" x="1363" y="5">大</text><text class="f" x="1391" y="5">1</text><text class="f" x="1422" y="5">1</text><text class="w" x="1451" y="5">1</text><text class="f" x="1480" y="5">2</text></g>
<g id="r17" class="r" transform="translate(0,687)"><rect class="rb" x="526" y="-15" width="25" height="30"/><rect class="ob" x="1040" y="-15" width="25" height="30"/><rect class="tb" x="1322" y="-10" width="20" height="20"/><rect class="ob" x="1381" y="-10" width="20" height="20"/><rect class="tb" x="1412" y="-10" width="20" height="20"/>
<text class="k" x="35" y="5">2024348</text><text class="k" x="96" y="5">358</text><text class="k" x="145" y="5">192</text><text class="k" x="187" y="5">12</text>
<text class="s" x="220" y="2">2115</text><text class="s" x="246" y="2">566</text><text class="s" x="273" y="2">484</text><text x="299" y="5">45</text><text x="326" y="5">8</text><text x="352" y="5">23</text><text x="379" y="5">59</text><text x="405" y="5">57</text><text x="432" y="5">3</text><text x="458" y="5">24</text><text x="485" y="5">11</text><text x="511" y="5">10</text><text class="w" x="538" y="5">12</text><text x="564" y="5">5</text><text x="591" y="5">7</text><text x="617" y="5">4</text><text x="644" y="5">38</text><text x="670" y="5">14</text><text x="697" y="5">9</text><text x="723" y="5">29</text><text x="750" y="5">1</text><text x="776" y="5">26</text><text x="803" y="5">13</text><text class="s" x="829" y="2">121</text><text class="s" x="855" y="2">340</text><text x="882" y="5">52</text><text class="s" x="908" y="2">365</text><text class="s" x="935" y="2">2044</text>
<text class="kk" x="967" y="5">2</text><text class="a" x="999" y="5">1</text><text class="a" x="1026" y="5">10</text><text class="w" x="1052" y="5">2</text><text class="a" x="1078" y="5">5</text><text class="a" x="1105" y="5">7</text><text class="a" x="1131" y="5">4</text><text class="a" x="1158" y="5">38</text><text class="a" x="1184" y="5">14</text><text class="a" x="1210" y="5">3</text><text class="a" x="1237" y="5">24</text>
<text class="kk" x="1268" y="5">8</text><text class="f" x="1302" y="5">4</text><text class="bw" x="1332" y="5">偶</text><text class="f" x="1363" y="5">1</text><text class="bw" x="1391" y="5">小</text><text class="w" x="1422" y="5">0</text><text class="f" x="1451" y="5">5</text><text class="f" x="1480" y="5">1</text></g>
<g id="r18" class="r" transform="translate(0,718)"><rect class="rb" x="738" y="-15" width="25" height="30"/><rect class="ob" x="987" y="-15" width="25" height="30"/><rect class="tb" x="1322" y="-10" width="20" height="20"/><rect class="ob" x="1353" y="-10" width="20" height="20"/><rect class="tb" x="1470" y="-10" width="20" height="20"/>
<text class="k" x="35" y="5">2024347</text><text class="k" x="96" y="5">413</text><text class="k" x="145" y="5">893</text><text class="k" x="187" y="5">20</text>
<text class="s" x="220" y="2">2114</text><text class="s" x="246" y="2">565</text><text class="s" x="273" y="2">483</text><text x="299" y="5">44</text><text x="326" y="5">7</text><text x="352" y="5">22</text><text x="379" y="5">58</text><text x="405" y="5">56</text><text x="432" y="5">2</text><text x="458" y="5">23</text><text x="485" y="5">10</text><text x="511" y="5">9</text><text x="538" y="5">5</text><text x="564" y="5">4</text><text x="591" y="5">6</text><text x="617" y="5">3</text><text x="644" y="5">37</text><text x="670" y="5">13</text><text x="697" y="5">8</text><text x="723" y="5">28</text><text class="w" x="750" y="5">20</text><text x="776" y="5">25</text><text x="803" y="5">12</text><text class="s" x="829" y="2">120</text><text class="s" x="855" y="2">339</text><text x="882" y="5">51</text><text class="s" x="908" y="2">364</text><text class="s" x="935" y="2">2043</text>
<text class="kk" x="967" y="5">0</text><text class="w" x="999" y="5">0</text><text class="a" x="1026" y="5">9</text><text class="a" x="1052" y="5">5</text><text class="a" x="1078" y="5">4</text><text class="a" x="1105" y="5">6</text><text class="a" x="1131" y="5">3</text><text class="a" x="1158" y="5">37</text><text class="a" x="1184" y="5">13</text><text class="a" x="1210" y="5">2</text><text class="a" x="1237" y="5">23</text>
<text class="kk" x="1268" y="5">0</text><text class="f" x="1302" y="5">3</text><text class="bw" x="1332" y="5">偶</text><text class="bw" x="1363" y="5">大</text><text class="f" x="1391" y="5">2</text><text class="f" x="1422" y="5">3</text><text class="f" x="1451" y="5">4</text><text class="w" x="1480" y="5">2</text></g>
<g id="r19" class="r" transform="translate(0,749)"><rect class="ob" x="130" y="-11" width="31" height="22"/><rect class="rb" x="738" y="-15" width="25" height="30"/><rect class="ob" x="987" y="-15" width="25" height="30"/><rect class="tb" x="1322" y="-10" width="20" height="20"/><rect class="ob" x="1353" y="-10" width="20" height="20"/><rect class="tb" x="1470" y="-10" width="20" height="20"/>
<text class="k" x="35" y="5">2024346</text><text class="k" x="96" y="5">510</text><text class="p" x="145" y="5">677</text><text class="k" x="187" y="5">20</text>
<text class="s" x="220" y="2">2113</text><text class="s" x="246" y="2">564</text><text class="s" x="273" y="2">482</text><text x="299" y="5">43</text><text x="326" y="5">6</text><text x="352" y="5">21</text><text x="379" y="5">57</text><text x="405" y="5">55</text><text x="432" y="5">1</text><text x="458" y="5">22</text><text x="485" y="5">9</text><text x="511" y="5">8</text><text x="538" y="5">4</text><text x="564" y="5">3</text><text x="591" y="5">5</text><text x="617" y="5">2</text><text x="644" y="5">36</text><text x="670" y="5">12</text><text x="697" y="5">7</text><text x="723" y="5">27</text><text class="w" x="750" y="5">20</text><text x="776" y="5">24</text><text x="803" y="5">11</text><text class="s" x="829" y="2">119</text><text class="s" x="855" y="2">338</text><text x="882" y="5">50</text><text class="s" x="908" y="2">363</text><text class="s" x="935" y="2">2042</text>
<text class="kk" x="967" y="5">0</text><text class="w" x="999" y="5">0</text><text class="a" x="1026" y="5">8</text><text class="a" x="1052" y="5">4</text><text class="a" x="1078" y="5">3</text><text class="a" x="1105" y="5">5</text><text class="a" x="1131" y="5">2</text><text class="a" x="1158" y="5">36</text><text class="a" x="1184" y="5">12</text><text class="a" x="1210" y="5">1</text><text class="a" x="1237" y="5">22</text>
<text class="kk" x="1268" y="5">12</text><text class="f" x="1302" y="5">2</text><text class="bw" x="1332" y="5">偶</text><text class="bw" x="1363" y="5">大</text><text class="f" x="1391" y="5">1</text><text class="f" x="1422" y="5">2</text><text class="f" x="1451" y="5">3</text><text class="w" x="1480" y="5">2</text></g>
<g id="r20" class="r" transform="translate(0,780)"><rect class="rb" x="420" y="-15" width="25" height="30"/><rect class="ob" x="1198" y="-15" width="25" height="30"/><rect class="tb" x="1322" y="-10" width="20" height="20"/><rect class="ob" x="1381" y="-10" width="20" height="20"/><rect class="tb" x="1470" y="-10" width="20" height="20"/>
<text class="k" x="35" y="5">2024345</text><text class="k" x="96" y="5">712</text><text class="k" x="145" y="5">620</text><text class="k" x="187" y="5">8</text>
<text class="s" x="220" y="2">2112</text><text class="s" x="246" y="2">563</text><text class="s" x="273" y="2">481</text><text x="299" y="5">42</text><text x="326" y="5">5</text><text x="352" y="5">20</text><text x="379" y="5">56</text><text x="405" y="5">54</text><text class="w" x="432" y="5">8</text><text x="458" y="5">21</text><text x="485" y="5">8</text><text x="511" y="5">7</text><text x="538" y="5">3</text><text x="564" y="5">2</text><text x="591" y="5">4</text><text x="617" y="5">1</text><text x="644" y="5">35</text><text x="670" y="5">11</text><text x="697" y="5">6</text><text x="723" y="5">26</text><text x="750" y="5">12</text><text x="776" y="5">23</text><text x="803" y="5">10</text><text class="s" x="829" y="2">118</text><text class="s" x="855" y="2">337</text><text x="882" y="5">49</text><text class="s" x="908" y="2">362</text><text class="s" x="935" y="2">2041</text>
<text class="kk" x="967" y="5">8</text><text class="a" x="999" y="5">8</text><text class="a" x="1026" y="5">7</text><text class="a" x="1052" y="5">3</text><text class="a" x="1078" y="5">2</text><text class="a" x="1105" y="5">4</text><text class="a" x="1131" y="5">1</text><text class="a" x="1158" y="5">35</text><text class="a" x="1184" y="5">11</text><text class="w" x="1210" y="5">8</text><text class="a" x="1237" y="5">21</text>
<text class="kk" x="1268" y="5">7</text><text class="f" x="1302" y="5">1</text><text class="bw" x="1332" y="5">偶</text><text class="f" x="1363" y="5">1</text><text class="bw" x="1391" y="5">小</text><text class="f" x="1422" y="5">1</text><text class="f" x="1451" y="5">2</text><text class="w" x="1480" y="5">2</text></g>
<g id="r21" class="r" transform="translate(0,811)"><rect class="rb" x="605" y="-15" width="25" height="30"/><rect class="ob" x="1119" y="-15" width="25" height="30"/><rect class="tb" x="1292" y="-10" width="20" height="20"/><rect class="ob" x="1353" y="-10" width="20" height="20"/><rect class="tb" x="1412" y="-10" width="20" height="20"/>
<text class="k" x="35" y="5">2024344</text><text class="k" x="96" y="5">801</text><text class="k" x="145" y="5">546</text><text class="k" x="187" y="5">15</text>
<text class="s" x="220" y="2">2111</text><text class="s" x="246" y="2">562</text><text class="s" x="273" y="2">480</text><text x="299" y="5">41</text><text x="326" y="5">4</text><text x="352" y="5">19</text><text x="379" y="5">55</text><text x="405" y="5">53</text><text x="432" y="5">16</text><text x="458" y="5">20</text><text x="485" y="5">7</text><text x="511" y="5">6</text><text x="538" y="5">2</text><text x="564" y="5">1</text><text x="591" y="5">3</text><text class="w" x="617" y="5">15</text><text x="644" y="5">34</text><text x="670" y="5">10</text><text x="697" y="5">5</text><text x="723" y="5">25</text><text x="750" y="5">11</text><text x="776" y="5">22</text><text x="803" y="5">9</text><text class="s" x="829" y="2">117</text><text class="s" x="855" y="2">336</text><text x="882" y="5">48</text><text class="s" x="908" y="2">361</text><text class="s" x="935" y="2">2040</text>
<text class="kk" x="967" y="5">5</text><text class="a" x="999" y="5">7</text><text class="a" x="1026" y="5">6</text><text class="a" x="1052" y="5">2</text><text class="a" x="1078" y="5">1</text><text class="a" x="1105" y="5">3</text><text class="w" x="1131" y="5">5</text><text class="a" x="1158" y="5">34</text><text class="a" x="1184" y="5">10</text><text class="a" x="1210" y="5">5</text><text class="a" x="1237" y="5">20</text>
<text class="kk" x="1268" y="5">2</text><text class="bw" x="1302" y="5">奇</text><text class="f" x="1332" y="5">2</text><text class="bw" x="1363" y="5">大</text><text class="f" x="1391" y="5">1</text><text class="w" x="1422" y="5">0</text><text class="f" x="1451" y="5">1</text><text class="f" x="1480" y="5">3</text></g>
<g id="r22" class="r" transform="translate(0,842)"><rect class="rb" x="552" y="-15" width="25" height="30"/><rect class="ob" x="1066" y="-15" width="25" height="30"/><rect class="tb" x="1292" y="-10" width="20" height="20"/><rect class="ob" x="1381" y="-10" width="20" height="20"/><rect class="tb" x="1441" y="-10" width="20" height="20"/>
<text class="k" x="35" y="5">2024343</text><text class="k" x="96" y="5">697</text><text class="k" x="145" y="5">481</text><text class="k" x="187" y="5">13</text>
<text class="s" x="220" y="2">2110</text><text class="s" x="246" y="2">561</text><text class="s" x="273" y="2">479</text><text x="299" y="5">40</text><text x="326" y="5">3</text><text x="352" y="5">18</text><text x="379" y="5">54</text><text x="405" y="5">52</text><text x="432" y="5">15</text><text x="458" y="5">19</text><text x="485" y="5">6</text><text x="511" y="5">5</text><text x="538" y="5">1</text><text class="w" x="564" y="5">13</text><text x="591" y="5">2</text><text x="617" y="5">7</text><text x="644" y="5">33</text><text x="670" y="5">9</text><text x="697" y="5">4</text><text x="723" y="5">24</text><text x="750" y="5">10</text><text x="776" y="5">21</text><text x="803" y="5">8</text><text class="s" x="829" y="2">116</text><text class="s" x="855" y="2">335</text><text x="882" y="5">47</text><text class="s" x="908" y="2">360</text><text class="s" x="935" y="2">2039</text>
<text class="kk" x="967" y="5">3</text><text class="a" x="999" y="5">6</text><text class="a" x="1026" y="5">5</text><text class="a" x="1052" y="5">1</text><text class="w" x="1078" y="5">3</text><text class="a" x="1105" y="5">2</text><text class="a" x="1131" y="5">7</text><text class="a" x="1158" y="5">33</text><text class="a" x="1184" y="5">9</text><text class="a" x="1210" y="5">4</text><text class="a" x="1237" y="5">19</text>
<text class="kk" x="1268" y="5">1</text><text class="bw" x="1302" y="5">奇</text><text class="f" x="1332" y="5">1</text><text class="f" x="1363" y="5">2</text><text class="bw" x="1391" y="5">小</text><text class="f" x="1422" y="5">1</text><text class="w" x="1451" y="5">1</text><text class="f" x="1480" y="5">2</text></g>
<g id="r23" class="r" transform="translate(0,873)"><rect class="rb" x="526" y="-15" width="25" height="30"/><rect class="ob" x="1040" y="-15" width="25" height="30"/><rect class="tb" x="1322" y="-10" width="20" height="20"/><rect class="ob" x="1381" y="-10" width="20" height="20"/><rect class="tb" x="1412" y="-10" width="20" height="20"/>
<text class="k" x="35" y="5">2024342</text><text class="k" x="96" y="5">120</text><text class="k" x="145" y="5">084</text><text class="k" x="187" y="5">12</text>
<text class="s" x="220" y="2">2109</text><text class="s" x="246" y="2">560</text><text class="s" x="273" y="2">478</text><text x="299" y="5">39</text><text x="326" y="5">2</text><text x="352" y="5">17</text><text x="379" y="5">53</text><text x="405" y="5">51</text><text x="432" y="5">14</text><text x="458" y="5">18</text><text x="485" y="5">5</text><text x="511" y="5">4</text><text class="w" x="538" y="5">12</text><text x="564" y="5">25</text><text x="591" y="5">1</text><text x="617" y="5">6</text><text x="644" y="5">32</text><text x="670" y="5">8</text><text x="697" y="5">3</text><text x="723" y="5">23</text><text x="750" y="5">9</text><text x="776" y="5">20</text><text x="803" y="5">7</text><text class="s" x="829" y="2">115</text><text class="s" x="855" y="2">334</text><text x="882" y="5">46</text><text class="s" x="908" y="2">359</text><text class="s" x="935" y="2">2038</text>
<text class="kk" x="967" y="5">2</text><text class="a" x="999" y="5">5</text><text class="a" x="1026" y="5">4</text><text class="w" x="1052" y="5">2</text><text class="a" x="1078" y="5">25</text><text class="a" x="1105" y="5">1</text><text class="a" x="1131" y="5">6</text><text class="a" x="1158" y="5">32</text><text class="a" x="1184" y="5">8</text><text class="a" x="1210" y="5">3</text><text class="a" x="1237" y="5">18</text>
<text class="kk" x="1268" y="5">2</text><text class="f" x="1302" y="5">4</text><text class="bw" x="1332" y="5">偶</text><text class="f" x="1363" y="5">1</text><text class="bw" x="1391" y="5">小</text><text class="w" x="1422" y="5">0</text><text class="f" x="1451" y="5">2</text><text class="f" x="1480" y="5">1</text></g>
<g id="r24" class="r" transform="translate(0,904)"><rect class="rb" x="579" y="-15" width="25" height="30"/><rect class="ob" x="1093" y="-15" width="25" height="30"/><rect class="tb" x="1322" y="-10" width="20" height="20"/><rect class="ob" x="1353" y="-10" width="20" height="20"/><rect class="tb" x="1470" y="-10" width="20" height="20"/>
<text class="k" x="35" y="5">2024341</text><text class="k" x="96" y="5">204</text><text class="k" x="145" y="5">653</text><text class="k" x="187" y="5">14</text>
<text class="s" x="220" y="2">2108</text><text class="s" x="246" y="2">559</text><text class="s" x="273" y="2">477</text><text x="299" y="5">38</text><text x="326" y="5">1</text><text x="352" y="5">16</text><text x="379" y="5">52</text><text x="405" y="5">50</text><text x="432" y="5">13</text><text x="458" y="5">17</text><text x="485" y="5">4</text><text x="511" y="5">3</text><text x="538" y="5">12</text><text x="564" y="5">24</text><text class="w" x="591" y="5">14</text><text x="617" y="5">5</text><text x="644" y="5">31</text><text x="670" y="5">7</text><text x="697" y="5">2</text><text x="723" y="5">22</text><text x="750" y="5">8</text><text x="776" y="5">19</text><text x="803" y="5">6</text><text class="s" x="829" y="2">114</text><text class="s" x="855" y="2">333</text><text x="882" y="5">45</text><text class="s" x="908" y="2">358</text><text class="s" x="935" y="2">2037</text>
<text class="kk" x="967" y="5">4</text><text class="a" x="999" y="5">4</text><text class="a" x="1026" y="5">3</text><text class="a" x="1052" y="5">6</text><text class="a" x="1078" y="5">24</text><text class="w" x="1105" y="5">4</text><text class="a" x="1131" y="5">5</text><text class="a" x="1158" y="5">31</text><text class="a" x="1184" y="5">7</text><text class="a" x="1210" y="5">2</text><text class="a" x="1237" y="5">17</text>
<text class="kk" x="1268" y="5">10</text><text class="f" x="1302" y="5">3</text><text class="bw" x="1332" y="5">偶</text><text class="bw" x="1363" y="5">大</text><text class="f" x="1391" y="5">1</text><text class="f" x="1422" y="5">2</text><text class="f" x="1451" y="5">1</text><text class="w" x="1480" y="5">2</text></g>
<g id="r25"><rect class="rb" x="314" y="920" width="25" height="8"/><rect class="ob" x="1093" y="920" width="25" height="8"/></g>
</svg>
